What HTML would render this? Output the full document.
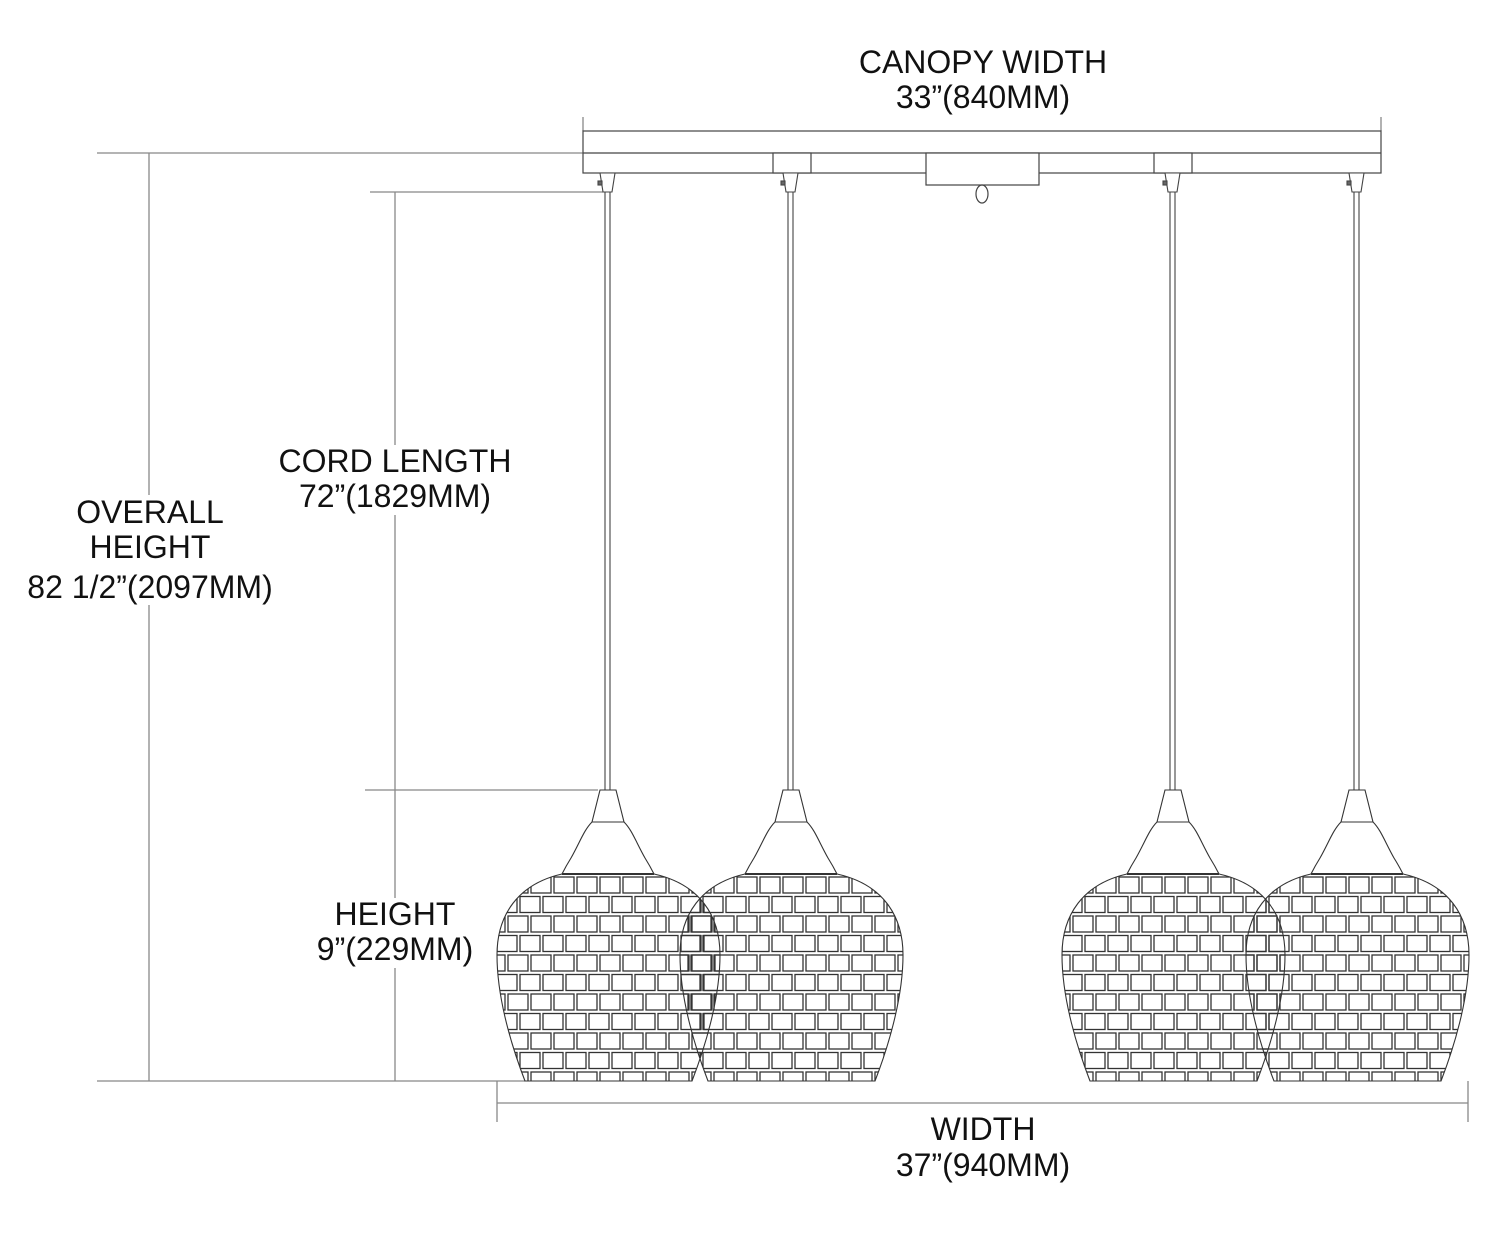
<!DOCTYPE html>
<html><head><meta charset="utf-8"><style>
html,body{margin:0;padding:0;background:#fff}
svg{display:block}
text{font-family:"Liberation Sans",Arial,sans-serif;font-size:32px;fill:#111}
</style></head><body>
<svg width="1500" height="1234" viewBox="0 0 1500 1234" xmlns="http://www.w3.org/2000/svg">
<defs>
<pattern id="tiles" patternUnits="userSpaceOnUse" x="0" y="876" width="46" height="39">
<rect x="2" y="1" width="20" height="16" fill="none" stroke="#333" stroke-width="1.3"/>
<rect x="25" y="1" width="20" height="16" fill="none" stroke="#333" stroke-width="1.3"/>
<rect x="-9" y="20.5" width="20" height="16" fill="none" stroke="#333" stroke-width="1.3"/>
<rect x="14" y="20.5" width="20" height="16" fill="none" stroke="#333" stroke-width="1.3"/>
<rect x="37" y="20.5" width="20" height="16" fill="none" stroke="#333" stroke-width="1.3"/>
</pattern>
</defs>
<g stroke="#888" stroke-width="1.3" fill="none">
<line x1="97" y1="153" x2="583" y2="153"/>
<line x1="149" y1="153" x2="149" y2="1081"/>
<line x1="97" y1="1081" x2="525" y2="1081"/>
<line x1="370" y1="192" x2="603" y2="192"/>
<line x1="395" y1="192" x2="395" y2="1081"/>
<line x1="365" y1="790" x2="598" y2="790"/>
<line x1="497" y1="1081" x2="497" y2="1122"/>
<line x1="1468" y1="1081" x2="1468" y2="1122"/>
<line x1="497" y1="1103" x2="1468" y2="1103"/>
<line x1="583" y1="117" x2="583" y2="131"/>
<line x1="1381" y1="117" x2="1381" y2="131"/>
</g>
<g fill="#fff" stroke="none">
<rect x="60" y="495" width="190" height="110"/>
<rect x="275" y="445" width="240" height="70"/>
<rect x="320" y="898" width="160" height="70"/>
</g>
<g text-anchor="middle">
<text x="983" y="73">CANOPY WIDTH</text>
<text x="983" y="108">33”(840MM)</text>
<text x="150" y="523">OVERALL</text>
<text x="150" y="558">HEIGHT</text>
<text x="150" y="598">82 1/2”(2097MM)</text>
<text x="395" y="472">CORD LENGTH</text>
<text x="395" y="507">72”(1829MM)</text>
<text x="395" y="925">HEIGHT</text>
<text x="395" y="960">9”(229MM)</text>
<text x="983" y="1140">WIDTH</text>
<text x="983" y="1176">37”(940MM)</text>
</g>
<g stroke="#444" stroke-width="1.2" fill="#fff">
<rect x="583" y="131" width="798" height="42"/>
<line x1="583" y1="153" x2="1381" y2="153"/>
<rect x="773" y="153" width="38" height="20"/>
<rect x="1154" y="153" width="38" height="20"/>
<rect x="926" y="153" width="113" height="32"/>
<ellipse cx="982" cy="194" rx="6" ry="9" fill="none"/>
</g>
<g stroke="#444" stroke-width="1.1" fill="#fff">
<g id="c1"><polygon points="600,173 615,173 612,192 603,192"/><rect x="598" y="181" width="4" height="4" fill="#666"/><line x1="605" y1="192" x2="605" y2="790"/><line x1="610" y1="192" x2="610" y2="790"/></g>
<use href="#c1" transform="translate(183,0)"/>
<use href="#c1" transform="translate(565,0)"/>
<use href="#c1" transform="translate(749,0)"/>
</g>
<g id="s1" stroke="#333" stroke-width="1.1">
<path d="M562,874 C518,884 497,915 497,955 C497,1000 513,1050 525,1081 L692,1081 C704,1050 720,1000 720,955 C720,915 699,884 654,874 Z" fill="url(#tiles)"/>
<path d="M600,790 L616,790 L624,822 C632,830 636,842 645,858 C650,866 654,874 654,874 L562,874 C562,874 566,866 571,858 C580,842 584,830 592,822 Z" fill="#fff"/>
<line x1="592" y1="822" x2="624" y2="822"/>
<line x1="562" y1="874" x2="654" y2="874" stroke-width="2"/>
</g>
<use href="#s1" transform="translate(183,0)"/>
<use href="#s1" transform="translate(565,0)"/>
<use href="#s1" transform="translate(749,0)"/>
</svg>
</body></html>
